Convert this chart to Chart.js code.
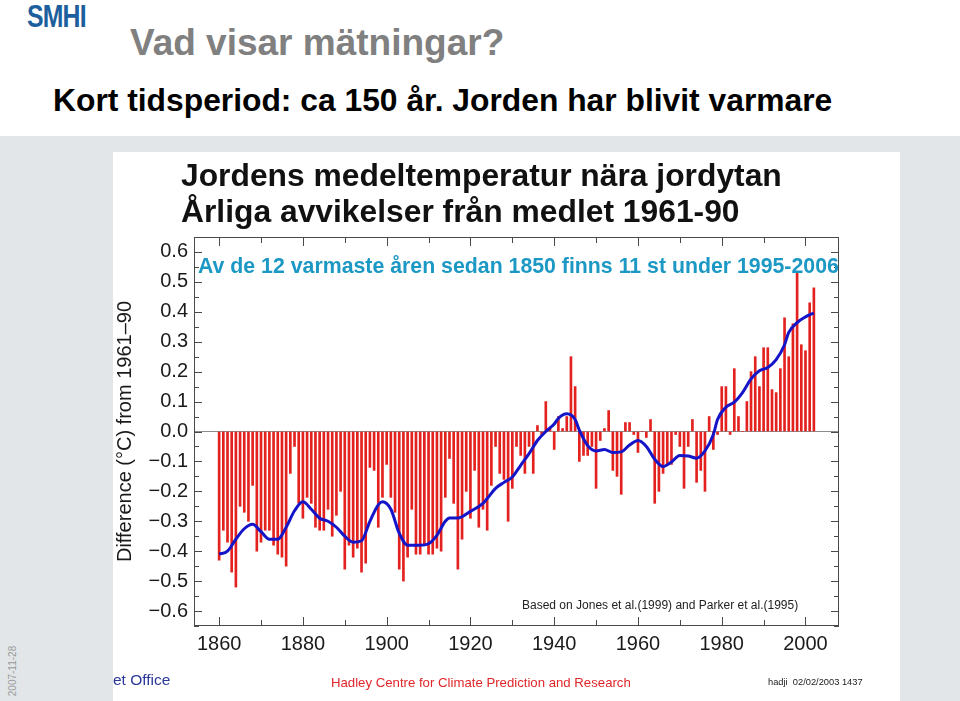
<!DOCTYPE html>
<html>
<head>
<meta charset="utf-8">
<script src="https://cdn.jsdelivr.net/npm/chart.js@4/dist/chart.umd.min.js"></script>
<style>
html,body{margin:0;padding:0}
body{width:960px;height:701px;position:relative;overflow:hidden;background:#fff;font-family:"Liberation Sans",Arial,sans-serif}
.t{position:absolute;white-space:nowrap;line-height:1}
#panel{position:absolute;left:0;top:136px;width:960px;height:565px;background:#e2e6e9}
#card{position:absolute;left:113px;top:152px;width:787px;height:549px;background:#fff}
#chart{position:absolute;left:113px;top:152px}
</style>
</head>
<body>
<div id="panel"></div>
<div id="card"></div>
<canvas id="chart" width="787" height="549"></canvas>

<div class="t" style="left:27px;top:-1px;font:bold 31px 'Liberation Sans',Arial;color:#1d5f9e;letter-spacing:-1px;transform:scaleX(0.8);transform-origin:0 0">SMHI</div>
<div class="t" style="left:130px;top:24px;font-size:37px;font-weight:bold;color:#808080">Vad visar mätningar?</div>
<div class="t" style="left:53px;top:85px;font-size:31.8px;font-weight:bold;color:#000">Kort tidsperiod: ca 150 år. Jorden har blivit varmare</div>
<div class="t" style="left:181px;top:160px;font-size:31.8px;font-weight:bold;color:#111">Jordens medeltemperatur nära jordytan</div>
<div class="t" style="left:181px;top:196px;font-size:31.8px;font-weight:bold;color:#111">Årliga avvikelser från medlet 1961-90</div>
<div class="t" style="left:198px;top:256px;font-size:21.3px;font-weight:bold;color:#1c98c4">Av de 12 varmaste åren sedan 1850 finns 11 st under 1995-2006</div>
<div class="t" style="left:522px;top:599px;font-size:12px;color:#222">Based on Jones et al.(1999) and Parker et al.(1995)</div>
<div class="t" style="left:113px;top:672px;font-size:15.5px;color:#2b3899">et Office</div>
<div class="t" style="left:331px;top:676px;font-size:13.2px;color:#e0262a">Hadley Centre for Climate Prediction and Research</div>
<div class="t" style="left:768px;top:678px;font-size:9.3px;color:#222">hadji&nbsp; 02/02/2003 1437</div>
<div class="t" style="left:-12px;top:666px;font-size:10px;color:#9a9a9a;transform:rotate(-90deg)">2007-11-28</div>

<script>
// ===== DATA =====
const years = [
1860,1861,1862,1863,1864,1865,1866,1867,1868,1869,
1870,1871,1872,1873,1874,1875,1876,1877,1878,1879,
1880,1881,1882,1883,1884,1885,1886,1887,1888,1889,
1890,1891,1892,1893,1894,1895,1896,1897,1898,1899,
1900,1901,1902,1903,1904,1905,1906,1907,1908,1909,
1910,1911,1912,1913,1914,1915,1916,1917,1918,1919,
1920,1921,1922,1923,1924,1925,1926,1927,1928,1929,
1930,1931,1932,1933,1934,1935,1936,1937,1938,1939,
1940,1941,1942,1943,1944,1945,1946,1947,1948,1949,
1950,1951,1952,1953,1954,1955,1956,1957,1958,1959,
1960,1961,1962,1963,1964,1965,1966,1967,1968,1969,
1970,1971,1972,1973,1974,1975,1976,1977,1978,1979,
1980,1981,1982,1983,1984,1985,1986,1987,1988,1989,
1990,1991,1992,1993,1994,1995,1996,1997,1998,1999,
2000,2001,2002]

// annual anomaly, degC from 1961-90
const anomalies = [
-0.43,-0.33,-0.37,-0.47,-0.52,-0.25,-0.27,-0.30,-0.18,-0.40,
-0.37,-0.33,-0.33,-0.38,-0.41,-0.42,-0.45,-0.14,-0.05,-0.24,
-0.29,-0.22,-0.24,-0.32,-0.33,-0.33,-0.26,-0.35,-0.28,-0.20,
-0.46,-0.38,-0.42,-0.39,-0.47,-0.44,-0.12,-0.13,-0.32,-0.22,
-0.11,-0.22,-0.27,-0.46,-0.50,-0.42,-0.26,-0.41,-0.41,-0.38,
-0.41,-0.41,-0.39,-0.40,-0.22,-0.09,-0.24,-0.46,-0.36,-0.20,
-0.29,-0.13,-0.32,-0.26,-0.33,-0.18,-0.05,-0.14,-0.16,-0.30,
-0.19,-0.05,-0.08,-0.14,-0.05,-0.14,0.02,-0.01,0.10,0.01,
-0.06,0.05,0.01,0.05,0.25,0.15,-0.10,-0.08,-0.08,-0.05,
-0.19,-0.03,0.01,0.07,-0.13,-0.15,-0.21,0.03,0.03,-0.01,
-0.07,0.00,-0.02,0.04,-0.24,-0.20,-0.14,-0.11,-0.11,-0.01,
-0.05,-0.19,-0.05,0.04,-0.17,-0.13,-0.20,0.05,-0.06,-0.01,
0.15,0.15,-0.01,0.21,0.05,0.00,0.10,0.20,0.25,0.15,
0.28,0.28,0.14,0.13,0.21,0.38,0.25,0.36,0.53,0.29,
0.27,0.43,0.48]

// smoothed curve
const smoothYears = [1860,1862,1864,1866,1868,1870,1872,1874,1876,1878,1880,1882,1884,1886,1888,1890,1892,1894,1896,1898,1899,1901,1903,1905,1908,1910,1912,1914,1915,1917,1920,1923,1924,1926,1928,1930,1932,1934,1936,1938,1940,1941,1943,1945,1946,1948,1950,1952,1954,1956,1958,1960,1962,1964,1966,1968,1970,1972,1974,1976,1978,1979,1981,1983,1985,1987,1989,1991,1993,1995,1996,1998,2000,2002]
const smoothValues = [-0.41,-0.40,-0.36,-0.325,-0.31,-0.335,-0.36,-0.36,-0.32,-0.265,-0.235,-0.26,-0.29,-0.30,-0.32,-0.35,-0.37,-0.365,-0.30,-0.245,-0.235,-0.26,-0.34,-0.38,-0.38,-0.375,-0.347,-0.30,-0.289,-0.289,-0.267,-0.24,-0.224,-0.19,-0.17,-0.152,-0.113,-0.074,-0.03,0.0,0.025,0.044,0.059,0.04,0.005,-0.047,-0.065,-0.06,-0.07,-0.068,-0.045,-0.03,-0.05,-0.093,-0.117,-0.102,-0.08,-0.082,-0.089,-0.065,-0.01,0.04,0.081,0.098,0.131,0.176,0.203,0.214,0.24,0.29,0.331,0.364,0.383,0.396]

const xTicks = [1860,1880,1900,1920,1940,1960,1980,2000]
const xMinorTicks = [1860,1870,1880,1890,1900,1910,1920,1930,1940,1950,1960,1970,1980,1990,2000]
const yTicks = [-0.6,-0.5,-0.4,-0.3,-0.2,-0.1,0,0.1,0.2,0.3,0.4,0.5,0.6]
const yMinorTicks = [-0.65,-0.6,-0.55,-0.5,-0.45,-0.4,-0.35,-0.3,-0.25,-0.2,-0.15,-0.1,-0.05,0,0.05,0.1,0.15,0.2,0.25,0.3,0.35,0.4,0.45,0.5,0.55,0.6,0.65]

// ===== FRAME + INWARD TICKS =====
const frameTicks = {
id:'frameTicks',
afterDatasetsDraw(chart){
const {ctx, chartArea:a, scales:{x,y}} = chart
ctx.save()
ctx.strokeStyle='#4a4a4a'
ctx.lineWidth=1
ctx.strokeRect(Math.round(a.left)+.5, Math.round(a.top)+.5, Math.round(a.right-a.left)-1, Math.round(a.bottom-a.top)-1)
ctx.beginPath()
xMinorTicks.forEach(v=>{
let px=Math.round(x.getPixelForValue(v))+.5
let len = xTicks.includes(v) ? 9 : 6
ctx.moveTo(px,a.bottom); ctx.lineTo(px,a.bottom-len)
ctx.moveTo(px,a.top); ctx.lineTo(px,a.top+len)
})
yMinorTicks.forEach(v=>{
let py=Math.round(y.getPixelForValue(v))+.5
let len = yTicks.some(t=>Math.abs(t-v)<1e-6) ? 8 : 5
ctx.moveTo(a.left,py); ctx.lineTo(a.left+len,py)
ctx.moveTo(a.right,py); ctx.lineTo(a.right-len,py)
})
ctx.stroke()
ctx.restore()
}
}

const fmt = v => (v<-1e-9 ? '\u2212' : '') + Math.abs(v).toFixed(1)

new Chart(document.getElementById('chart'),{
type:'bar',
data:{
datasets:[
{type:'line',data:smoothYears.map((x,i)=>({x:x,y:smoothValues[i]})),borderColor:'#1414c8',borderWidth:3,pointRadius:0,cubicInterpolationMode:'monotone',order:0},
{type:'bar',data:years.map((x,i)=>({x:x,y:anomalies[i]})),backgroundColor:'#e3211e',barThickness:2,order:1}
]
},
options:{
responsive:false,
animation:false,
layout:{padding:{left:0,right:61,top:85,bottom:0}},
plugins:{legend:{display:false},tooltip:{enabled:false}},
scales:{
x:{
type:'linear',min:1854,max:2008,offset:false,
afterBuildTicks:s=>{s.ticks=xTicks.map(v=>({value:v}))},
afterFit:s=>{s.height=75},
grid:{display:false,drawTicks:false},
border:{display:false},
ticks:{color:'#1a1a1a',font:{family:"'Liberation Sans',Arial",size:20},padding:6,maxRotation:0,autoSkip:false,callback:v=>String(v)}
},
y:{
min:-0.65,max:0.65,
afterBuildTicks:s=>{s.ticks=yTicks.map(v=>({value:v}))},
afterFit:s=>{s.width=81},
grid:{drawTicks:false,color:c=>(c.tick && Math.abs(c.tick.value)<1e-9) ? '#8c8c8c' : 'rgba(0,0,0,0)'},
border:{display:false},
ticks:{color:'#1a1a1a',font:{family:"'Liberation Sans',Arial",size:20},padding:6,autoSkip:false,callback:v=>fmt(v)},
title:{display:true,text:'Difference (\u00B0C) from 1961\u201390',color:'#1a1a1a',font:{family:"'Liberation Sans',Arial",size:20},padding:{top:0,bottom:0}}
}
}
},
plugins:[frameTicks]
})
</script>
</body>
</html>
